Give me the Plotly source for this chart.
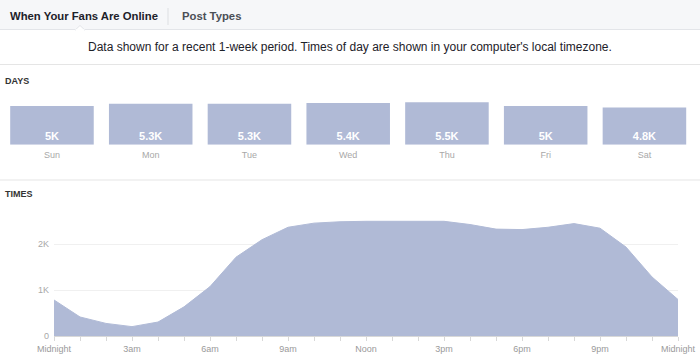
import plotly.graph_objects as go

W, H = 700, 354

days = ["Sun", "Mon", "Tue", "Wed", "Thu", "Fri", "Sat"]
day_values = [5000, 5300, 5300, 5400, 5500, 5000, 4800]
day_labels = ["5K", "5.3K", "5.3K", "5.4K", "5.5K", "5K", "4.8K"]

hours = list(range(25))
hour_values = [790, 420, 280, 210, 310, 640, 1080, 1720, 2100, 2370, 2460, 2490,
               2500, 2500, 2500, 2500, 2430, 2330, 2320, 2370, 2450, 2350, 1940, 1290, 800]
hour_tick_text = ["Midnight", "", "", "3am", "", "", "6am", "", "", "9am", "", "", "Noon",
                  "", "", "3pm", "", "", "6pm", "", "", "9pm", "", "", "Midnight"]
y_tick_vals = [0, 1000, 2000]
y_tick_text = ["0", "1K", "2K"]

FILL = "#b0bad6"
FONT = "Liberation Sans, Arial, Helvetica, sans-serif"

def py(p):
    return 1 - p / H

def px(p):
    return p / W

fig = go.Figure()

fig.add_trace(go.Bar(
    x=days, y=day_values, text=day_labels,
    textposition="inside", insidetextanchor="start",
    textfont=dict(color="white", size=11, family=FONT, weight="bold"),
    marker=dict(color=FILL, line=dict(width=0)),
    xaxis="x", yaxis="y", hoverinfo="skip", cliponaxis=False,
))

fig.add_trace(go.Scatter(
    x=hours, y=hour_values, mode="lines", fill="tozeroy",
    fillcolor=FILL, line=dict(color=FILL, width=1),
    xaxis="x2", yaxis="y2", hoverinfo="skip",
))

fig.update_layout(
    template="none",
    width=W, height=H, margin=dict(l=0, r=0, t=0, b=0, pad=0, autoexpand=False),
    paper_bgcolor="white", plot_bgcolor="rgba(0,0,0,0)",
    showlegend=False, bargap=0.154,
    font=dict(family=FONT),
    xaxis=dict(domain=[px(2.6), px(693.8)], anchor="y", showgrid=False, zeroline=False,
               showline=False, ticks="", automargin=False, ticklabelstandoff=3,
               tickfont=dict(size=9, color="#a8a8a8"), fixedrange=True),
    yaxis=dict(domain=[py(144.7), py(98.3)], range=[0, 6000], visible=False,
               automargin=False, fixedrange=True),
    xaxis2=dict(domain=[px(54), px(678)], anchor="y2", range=[0, 24], automargin=False,
                tickvals=hours, ticktext=hour_tick_text, ticks="outside", ticklen=4,
                tickcolor="#d8d8d8", showline=True, linecolor="#d8d8d8", linewidth=1,
                showgrid=False, zeroline=False, tickfont=dict(size=9, color="#9a9a9a")),
    yaxis2=dict(domain=[py(336.3), py(198.3)], range=[0, 3000], anchor="x2", automargin=False,
                tickvals=y_tick_vals, ticktext=y_tick_text, showgrid=True,
                gridcolor="#f0f0f0", gridwidth=1, zeroline=False, showline=False, ticks="",
                tickfont=dict(size=9, color="#a8a8a8"), ticklabelstandoff=4),
)

shapes = [
    dict(type="rect", xref="paper", yref="paper", x0=0, x1=1, y0=py(29.5), y1=1,
         fillcolor="#f6f7f9", line=dict(width=0), layer="below"),
    dict(type="line", xref="paper", yref="paper", x0=0, x1=1, y0=py(29.5), y1=py(29.5),
         line=dict(color="#e3e5e9", width=1)),
    dict(type="path", xref="paper", yref="paper",
         path=f"M {px(75)} {py(30.2)} L {px(80)} {py(25.5)} L {px(85)} {py(30.2)} Z",
         fillcolor="white", line=dict(color="#e3e5e9", width=1)),
    dict(type="line", xref="paper", yref="paper", x0=px(75.5), x1=px(84.5), y0=py(30.2), y1=py(30.2),
         line=dict(color="white", width=2)),
    dict(type="line", xref="paper", yref="paper", x0=px(168), x1=px(168), y0=py(8), y1=py(25),
         line=dict(color="#dddfe2", width=1)),
    dict(type="line", xref="paper", yref="paper", x0=0, x1=1, y0=py(64.5), y1=py(64.5),
         line=dict(color="#e5e5e5", width=1)),
    dict(type="line", xref="paper", yref="paper", x0=0, x1=1, y0=py(180), y1=py(180),
         line=dict(color="#e5e5e5", width=1)),
]
fig.update_layout(shapes=shapes)

annotations = [
    dict(text="<b>When Your Fans Are Online</b>", x=px(8), y=py(16), xanchor="left", yanchor="middle",
         font=dict(size=11.3, color="#1d2129")),
    dict(text="<b>Post Types</b>", x=px(180), y=py(16), xanchor="left", yanchor="middle",
         font=dict(size=11.3, color="#4b4f56")),
    dict(text="Data shown for a recent 1-week period. Times of day are shown in your computer's local timezone.",
         x=px(350), y=py(47), xanchor="center", yanchor="middle",
         font=dict(size=12, color="#1d2129")),
    dict(text="<b>DAYS</b>", x=px(3), y=py(81), xanchor="left", yanchor="middle",
         font=dict(size=9, color="#333333")),
    dict(text="<b>TIMES</b>", x=px(3), y=py(194), xanchor="left", yanchor="middle",
         font=dict(size=9, color="#333333")),
]
for a in annotations:
    a.update(xref="paper", yref="paper", showarrow=False)
fig.update_layout(annotations=annotations)

fig.write_html("out.html")
